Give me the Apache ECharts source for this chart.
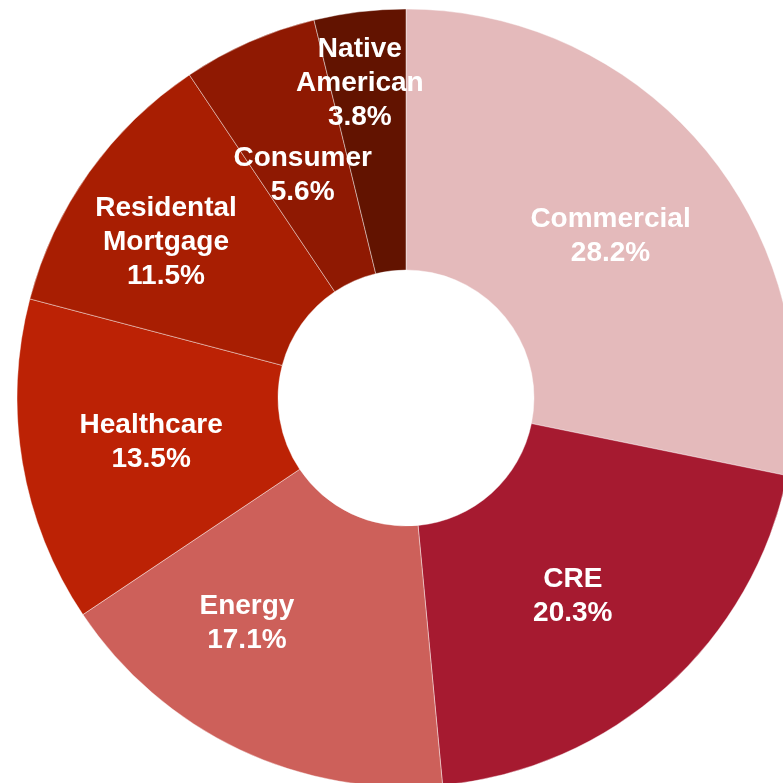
<!DOCTYPE html>
<html>
<head>
<meta charset="utf-8">
<script src="https://cdn.jsdelivr.net/npm/echarts@6/dist/echarts.min.js"></script>
<style>html,body{margin:0;padding:0;background:#fff}#c{width:783px;height:783px}</style>
</head>
<body>
<div id="c"></div>
<script>
const categories = ["Commercial", "CRE", "Energy", "Healthcare", "Residental\nMortgage", "Consumer", "Native\nAmerican"];
const values = [28.2, 20.3, 17.1, 13.5, 11.5, 5.6, 3.8];
const colors = ["#E4BABB", "#A61A30", "#CD605A", "#BC2205", "#A81E02", "#8F1902", "#621300"];
const labelShift = [[2, 4], [-8, 4], [-47, -11], [3, 1], [-27, -4], [2, 17], [-15, -55]];

const chart = echarts.init(document.getElementById('c'), null, {renderer: 'canvas'});
chart.setOption({
  animation: false,
  backgroundColor: '#fff',
  series: [{
    type: 'pie',
    center: [406, 398],
    radius: [128, 389],
    startAngle: 90,
    clockwise: true,
    avoidLabelOverlap: false,
    data: categories.map((n, i) => ({
      name: n, value: values[i],
      itemStyle: {color: colors[i]}
    })),
    itemStyle: {borderColor: 'rgba(255,255,255,0.6)', borderWidth: 0.7},
    label: {
      show: true,
      position: 'inside',
      color: '#fff',
      fontFamily: 'Liberation Sans, Arial, sans-serif',
      fontWeight: 'bold',
      fontSize: 28,
      lineHeight: 34,
      align: 'center',
      formatter: p => p.name + '\n' + p.value.toFixed(1) + '%'
    },
    labelLine: {show: false},
    labelLayout: p => ({dx: labelShift[p.dataIndex][0], dy: labelShift[p.dataIndex][1]}),
    emphasis: {disabled: true}
  }]
});
</script>
</body>
</html>
